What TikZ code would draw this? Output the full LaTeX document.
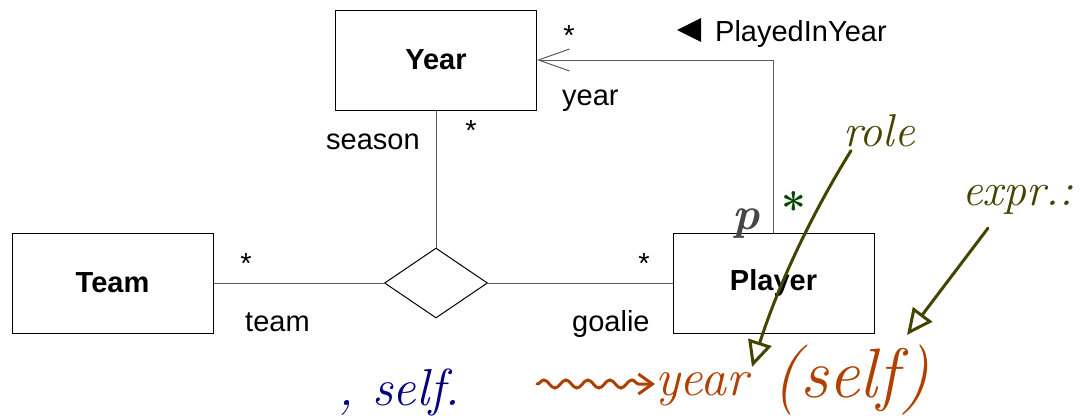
\documentclass[tikz,border=0pt]{standalone}
\usepackage{fontspec}
\setsansfont{Liberation Sans}
\usetikzlibrary{arrows.meta,decorations.pathmorphing,shapes.geometric}
\definecolor{olive2}{RGB}{68,68,0}
\definecolor{rust}{RGB}{176,64,0}
\definecolor{navy2}{RGB}{0,0,128}
\definecolor{dgreen}{RGB}{0,72,0}
\definecolor{pgray}{RGB}{70,70,70}
\begin{document}
\begin{tikzpicture}[x=1pt,y=-1pt,
  cls/.style={draw=black, line width=1pt, minimum width=201pt, minimum height=100pt, inner sep=0pt,
    font=\sffamily\bfseries\fontsize{29}{29}\selectfont},
  lbl/.style={font=\sffamily\fontsize{29}{29}\selectfont, inner sep=0pt},
  conn/.style={draw=black!65, line width=1pt},
  hand/.style={font=\itshape\fontsize{46}{46}\selectfont, inner sep=0pt},
  handarrow/.style={draw=olive2, line width=3pt, line cap=round, -{Triangle[open,length=26pt,width=24pt,line width=3pt]}}
]
\useasboundingbox (0,0) rectangle (1086,416);
% classes
\node[cls] (year) at (436,60) {Year};
\node[cls] (team) at (112.5,283) {Team};
\node[cls] (player) at (773.5,283) {Player};
\node[draw=black, line width=1pt, shape=diamond, aspect=1.47, minimum width=103pt, minimum height=70pt, inner sep=0pt] (dia) at (436,283) {};
% connectors
\draw[conn] (year.south) -- (dia.north);
\draw[conn] (team.east) -- (dia.west);
\draw[conn] (dia.east) -- (player.west);
\draw[conn, -{Straight Barb[length=31pt,width=22pt,line width=1pt]}] (player.north) |- (year.east);
% labels
\node[lbl] (ystar) at (569,36) {*};
\node[lbl, anchor=base west] (yrole) at (562,105) {year};
\fill[black] (677,30) -- (701,18) -- (701,42) -- cycle;
\node[lbl, anchor=base west] (piy) at (715,41) {PlayedInYear};
\node[lbl, anchor=base west] (season) at (326,149) {season};
\node[lbl] (sstar) at (471,131) {*};
\node[lbl] (tstar) at (246,264) {*};
\node[lbl, anchor=base west] (trole) at (245,331) {team};
\node[lbl] (gstar) at (644,264) {*};
\node[lbl, anchor=base west] (grole) at (572,331) {goalie};
% handwritten annotations
\node[hand, text=pgray, font=\itshape\bfseries\fontsize{46}{46}\selectfont] (pmark) at (746,224) {p};
\node[hand, text=dgreen, font=\bfseries\fontsize{44}{44}\selectfont] (gstar2) at (794,208) {*};
\node[hand, text=olive2, anchor=base west] (role) at (843,146) {role};
\node[hand, text=olive2, anchor=base west] (expr) at (962,205) {expr.:};
\node[hand, text=rust, font=\itshape\fontsize{52}{52}\selectfont, anchor=base west] (yw) at (655,395) {year};
\node[hand, text=rust, font=\itshape\fontsize{70}{70}\selectfont, anchor=base west] (sw) at (772,397) {(self)};
\node[hand, text=navy2, font=\itshape\fontsize{52}{52}\selectfont, anchor=base west] (selfw) at (338,405) {, self.};
\coordinate (sqs) at (537,384);
\coordinate (rtip) at (752,367);
\coordinate (etip) at (907,335);
\draw[draw=rust, line width=3pt, line cap=round, decorate, decoration={snake, amplitude=4pt, segment length=22pt, post length=12pt}, -{Straight Barb[length=14pt,width=20pt,line width=3pt]}] (sqs) -- (yw.west |- sqs) ++(-14,0);
\draw[handarrow] (role.south west) ++(8,4) .. controls (805,225) and (775,295) .. (rtip);
\draw[handarrow] (expr.south west) ++(26,14) -- (etip);
\end{tikzpicture}
\end{document}
